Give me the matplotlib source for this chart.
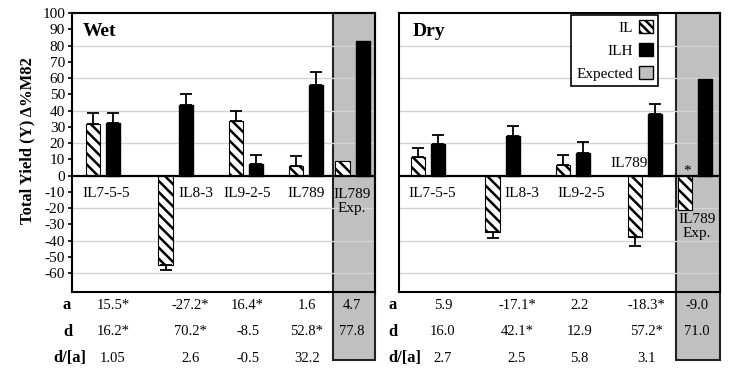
import matplotlib
matplotlib.use("Agg")
import matplotlib.pyplot as plt
from matplotlib.patches import Patch, Rectangle
import matplotlib.transforms as mtransforms

plt.rcParams['font.family'] = ['Liberation Serif', 'DejaVu Serif']
plt.rcParams['axes.unicode_minus'] = False
plt.rcParams['hatch.linewidth'] = 1.8

# data
lines = ["IL7-5-5", "IL8-3", "IL9-2-5", "IL789", "IL789\nExp."]

wet_il = [32, -55, 33.5, 6, 9]
wet_il_err = [6.5, 2.8, 6.5, 5.8]
wet_ilh = [32.5, 43.5, 7, 56, 82.5]
wet_ilh_err = [6, 7, 6, 7.5]

dry_il = [11.5, -34.5, 6.5, -37.5, -21]
dry_il_err = [5.5, 4, 6, 6]
dry_ilh = [19.5, 24.5, 14, 38, 59.5]
dry_ilh_err = [5.5, 6, 6.5, 6]

wet_a = ["15.5*", "-27.2*", "16.4*", "1.6", "4.7"]
wet_d = ["16.2*", "70.2*", "-8.5", "52.8*", "77.8"]
wet_da = ["1.05", "2.6", "-0.5", "32.2"]
dry_a = ["5.9", "-17.1*", "2.2", "-18.3*", "-9.0"]
dry_d = ["16.0", "42.1*", "12.9", "57.2*", "71.0"]
dry_da = ["2.7", "2.5", "5.8", "3.1"]

# layout (x units, one unit ~ group spacing)
wet_pos = [0.43, 1.44, 2.42, 3.25, 3.90]
dry_pos = [0.40, 1.44, 2.42, 3.42, 4.11]
wet_lab = [(0.47, -10.7), (1.72, -10.7), (2.43, -10.7), (3.25, -10.7), (3.89, -15.6)]
dry_lab = [(0.46, -10.7), (1.71, -10.7), (2.53, -10.7), (3.19, 7.7), (4.14, -31)]
wet_col = [0.57, 1.64, 2.44, 3.26, 3.89]
dry_col = [0.61, 1.64, 2.51, 3.44, 4.14]

GRAY = '#c0c0c0'
W = 0.2
OFF = 0.14

fig = plt.figure(figsize=(7.31, 3.69), dpi=100)
ax1 = fig.add_axes([72/731, 1-292/369, 303/731, 279/369])
ax2 = fig.add_axes([399/731, 1-292/369, 321/731, 279/369])


def draw_panel(ax, pos, il, il_err, ilh, ilh_err, xmax, gray_x, labels):
    ax.set_xlim(0, xmax)
    ax.set_ylim(-71.5, 100)
    for y in range(-60, 100, 20):
        if y != 0:
            ax.axhline(y, color='#d2d2d2', lw=1, zorder=0.5)
    trans = mtransforms.blended_transform_factory(ax.transData, ax.transAxes)
    ax.add_patch(Rectangle((gray_x, -0.244), xmax - gray_x, 1.244, transform=trans,
                           facecolor=GRAY, edgecolor='#222222', lw=1.5,
                           clip_on=False, zorder=0.2))
    xl = [p - OFF for p in pos]
    xh = [p + OFF for p in pos]
    ax.bar(xl, il, width=W, color='white', edgecolor='black', hatch='\\\\\\',
           lw=0.8, zorder=2)
    ax.bar(xh, ilh, width=W, color='black', edgecolor='black', zorder=2)
    n = len(il_err)
    lo = [e if v < 0 else 0 for v, e in zip(il[:n], il_err)]
    hi = [0 if v < 0 else e for v, e in zip(il[:n], il_err)]
    ax.errorbar(xl[:n], il[:n], yerr=[lo, hi], fmt='none', ecolor='black',
                elinewidth=1.3, capsize=4, capthick=1.3, zorder=3)
    ax.errorbar(xh[:n], ilh[:n], yerr=[[0]*n, ilh_err], fmt='none', ecolor='black',
                elinewidth=1.3, capsize=4, capthick=1.3, zorder=3)
    ax.axhline(0, color='black', lw=1.6, zorder=4)
    for (x, y), t in zip(labels, lines):
        ax.text(x, y, t, ha='center', va='center', fontsize=11,
                linespacing=1.1, zorder=5)
    for s in ax.spines.values():
        s.set_linewidth(1.5)
    ax.set_xticks([])
    return trans


def draw_table(ax, trans, cols, rows, row_x):
    row_y = [-0.047, -0.143, -0.237]
    names = ["a", "d", "d/[a]"]
    for vals, y, name, rx in zip(rows, row_y, names, row_x):
        ax.text(rx, y, name, transform=ax.transAxes, ha='left', va='center',
                fontsize=12, fontweight='bold')
        for x, v in zip(cols, vals):
            ax.text(x, y, v, transform=trans, ha='center', va='center', fontsize=10.5)


t1 = draw_panel(ax1, wet_pos, wet_il, wet_il_err, wet_ilh, wet_ilh_err,
                4.21, 3.625, wet_lab)
t2 = draw_panel(ax2, dry_pos, dry_il, dry_il_err, dry_ilh, dry_ilh_err,
                4.46, 3.85, dry_lab)

ax1.set_yticks(range(-60, 101, 10))
ax1.set_yticklabels([str(v) for v in range(-60, 101, 10)])
ax1.tick_params(axis='y', direction='out', length=3, width=1.2, labelsize=11, pad=2)
ax2.set_yticks([])

draw_table(ax1, t1, wet_col, [wet_a, wet_d, wet_da], [-0.03, -0.03, -0.063])
draw_table(ax2, t2, dry_col, [dry_a, dry_d, dry_da], [-0.034, -0.034, -0.034])

ax1.text(0.036, 0.935, "Wet", transform=ax1.transAxes, ha='left', va='center',
         fontsize=14, fontweight='bold')
ax2.text(0.044, 0.935, "Dry", transform=ax2.transAxes, ha='left', va='center',
         fontsize=14, fontweight='bold')
ax2.text(4.0, 3.0, "*", ha='center', va='center', fontsize=11, zorder=5)

fig.text(0.038, 0.62, "Total Yield (Y) \u0394%M82", rotation=90, ha='center',
         va='center', fontsize=12, fontweight='bold')

handles = [Patch(facecolor='white', edgecolor='black', hatch='\\\\\\\\'),
           Patch(facecolor='black', edgecolor='black'),
           Patch(facecolor=GRAY, edgecolor='black')]
leg = ax2.legend(handles, ["IL", "ILH", "Expected"], loc='upper right',
                 bbox_to_anchor=(658/731, 1-15/369), bbox_transform=fig.transFigure,
                 borderaxespad=0, markerfirst=False, fancybox=False, framealpha=1,
                 edgecolor='black', fontsize=11, handlelength=0.9, handleheight=0.9,
                 borderpad=0.35, labelspacing=0.55, handletextpad=0.4)
leg.get_frame().set_linewidth(1.2)
for t in leg.get_texts():
    t.set_ha('right')

fig.savefig("out.png", dpi=100)
